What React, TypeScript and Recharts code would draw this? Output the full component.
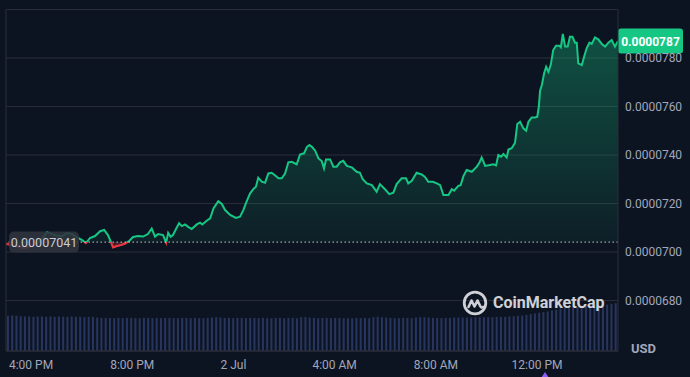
import React from 'react';
import {
  ComposedChart,
  Area,
  XAxis,
  YAxis,
  CartesianGrid,
  ReferenceLine,
  BarChart,
  Bar,
} from 'recharts';

// time in hours since 00:00 on 1 Jul (24 = 2 Jul 00:00)
const TIMES = [
  15.01, 15.25, 15.49, 15.72, 15.96, 16.2, 16.43, 16.63, 16.83, 17.03, 17.23, 17.42, 17.62, 17.86, 18.02,
  18.17, 18.33, 18.53, 18.73, 18.89, 19.04, 19.16, 19.24, 19.4, 19.56, 19.72, 19.87, 20.03, 20.23, 20.43,
  20.62, 20.77, 20.9, 21.02, 21.22, 21.34, 21.42, 21.52, 21.61, 21.73, 21.85, 21.96, 22.09, 22.21, 22.35,
  22.55, 22.68, 22.77, 22.94, 23.08, 23.21, 23.4, 23.54, 23.67, 23.87, 24.1, 24.26, 24.39, 24.53, 24.66,
  24.79, 24.89, 24.98, 25.12, 25.25, 25.38, 25.51, 25.64, 25.78, 25.91, 26.04, 26.17, 26.3, 26.5, 26.63,
  26.79, 26.9, 27.0, 27.11, 27.23, 27.36, 27.49, 27.58, 27.66, 27.82, 27.95, 28.08, 28.21, 28.34, 28.48,
  28.68, 28.87, 29.0, 29.11, 29.27, 29.47, 29.66, 29.79, 29.99, 30.16, 30.32, 30.45, 30.65, 30.82, 30.91,
  31.05, 31.24, 31.44, 31.57, 31.7, 31.88, 32.04, 32.17, 32.3, 32.5, 32.63, 32.72, 32.89, 32.98, 33.09,
  33.22, 33.42, 33.62, 33.72, 33.81, 33.95, 34.14, 34.27, 34.38, 34.47, 34.58, 34.67, 34.8, 34.87, 35.0,
  35.13, 35.22, 35.33, 35.46, 35.57, 35.66, 35.79, 35.92, 36.01, 36.07, 36.12, 36.19, 36.28, 36.36, 36.45,
  36.54, 36.64, 36.75, 36.88, 36.94, 37.02, 37.11, 37.21, 37.3, 37.4, 37.5, 37.57, 37.63, 37.77, 37.86,
  37.96, 38.07, 38.16, 38.29, 38.42, 38.56, 38.69, 38.82, 38.95, 39.08, 39.2,
];

// price in units of 1e-7 USD
const PRICES = [
  703.3, 702.9, 702.1, 701.6, 702.1, 703.3, 705.4, 708.2, 707.4, 706.6, 706.6, 707.8, 707.4, 705.8, 704.9,
  703.7, 705.8, 706.6, 708.6, 709.1, 707.0, 704.1, 701.9, 702.5, 702.9, 703.5, 704.5, 706.2, 706.6, 706.4,
  707.4, 709.7, 706.4, 707.4, 707.0, 703.8, 707.9, 706.3, 707.0, 709.5, 711.9, 710.7, 711.4, 710.4, 709.5,
  711.4, 712.1, 711.4, 712.9, 713.9, 718.0, 721.0, 719.8, 717.3, 715.3, 714.1, 714.6, 717.3, 721.1, 724.2,
  726.0, 726.9, 730.6, 729.0, 728.6, 732.4, 732.7, 731.7, 730.4, 730.4, 732.4, 737.0, 737.2, 736.2, 740.2,
  740.7, 743.3, 744.1, 743.3, 741.8, 738.6, 737.5, 734.5, 738.2, 738.2, 735.2, 735.2, 737.0, 737.6, 735.5,
  734.9, 733.1, 732.7, 730.0, 728.3, 727.6, 724.9, 728.0, 725.9, 723.9, 724.5, 728.0, 730.4, 730.4, 728.3,
  729.4, 732.7, 732.0, 731.0, 729.0, 729.0, 728.3, 727.6, 723.5, 723.5, 725.9, 725.3, 727.3, 727.6, 731.3,
  733.8, 733.1, 735.2, 736.8, 739.0, 735.5, 735.9, 736.2, 735.7, 740.0, 739.3, 740.4, 739.0, 742.3, 742.8,
  745.1, 752.8, 753.7, 751.0, 750.0, 753.7, 755.5, 755.5, 755.8, 759.9, 766.5, 768.9, 773.7, 776.4, 774.3,
  777.1, 783.3, 785.1, 785.1, 784.4, 789.9, 784.7, 784.7, 788.8, 788.8, 786.3, 786.3, 777.8, 777.1, 780.5,
  784.0, 786.3, 785.8, 788.5, 787.7, 785.8, 784.7, 786.3, 787.4, 784.7, 787.0,
];

const BASELINE = 704.1;
const LAST_PRICE = 787.0;
const PRICE_UNIT = 1e-7;
const Y_TOP = 800;
const Y_BOTTOM = 659.2;
const Y_TICKS = [680, 700, 720, 740, 760, 780];
const X_TICKS = [16, 20, 24, 28, 32, 36];
const X_TICK_LABELS = ['4:00 PM', '8:00 PM', '2 Jul', '4:00 AM', '8:00 AM', '12:00 PM'];

// 10-minute volume bars (arbitrary units)
const VOLUMES = [
  103, 104, 103, 102, 101, 101, 100, 101, 101, 100, 101, 100,
  101, 100, 100, 101, 100, 100, 99, 100, 100, 98, 97, 97,
  97, 96, 97, 96, 97, 97, 96, 96, 97, 97, 96, 97,
  96, 97, 97, 96, 96, 97, 97, 96, 97, 96, 96, 97,
  98, 99, 98, 97, 97, 96, 97, 97, 96, 97, 97, 96,
  97, 96, 96, 97, 97, 96, 97, 97, 96, 99, 99, 98,
  97, 96, 97, 97, 96, 97, 97, 96, 96, 96, 97, 96,
  97, 96, 99, 100, 99, 98, 97, 96, 96, 97, 97, 96,
  98, 99, 99, 98, 97, 97, 96, 97, 97, 98, 98, 98,
  98, 98, 99, 99, 99, 99, 99, 100, 100, 100, 101, 102,
  103, 104, 106, 108, 110, 112, 114, 116, 119, 121, 124, 126,
  127, 128, 129, 130, 131, 132, 133, 134, 135, 136, 138, 140,
];
const VOLUME_MAX = 1000;

const W = 690;
const H = 377;
const BG = '#0d1421';
const GRID = '#2a2e3b';
const GREEN = '#16c784';
const RED = '#ea3943';
const TICK = '#a1a7bb';
const FONT = 'Roboto, "Noto Sans", sans-serif';

const priceData = TIMES.map((t, i) => ({ t, p: PRICES[i] }));
const volumeData = VOLUMES.map((v, i) => ({ i, v }));

const pMax = Math.max(...PRICES, BASELINE);
const pMin = Math.min(...PRICES, BASELINE);
const splitOffset = (pMax - BASELINE) / (pMax - pMin);

const xTickFmt = (v: number) => {
  const idx = X_TICKS.indexOf(v);
  return idx >= 0 ? X_TICK_LABELS[idx] : '';
};
const yTickFmt = (v: number) => (v * PRICE_UNIT).toFixed(7);

const BaselinePill = (props: any) => {
  const vb = props.viewBox || {};
  const x = vb.x + 3;
  const y = vb.y;
  return (
    <g>
      <rect x={x} y={y - 10.5} width={70} height={21} rx={5} fill="#30343f" fillOpacity={0.88} />
      <text x={x + 35} y={y + 0.5} textAnchor="middle" dominantBaseline="central" fill="#c9cdd7" fontSize={12.5} fontFamily={FONT}>
        {(BASELINE * PRICE_UNIT).toFixed(8)}
      </text>
    </g>
  );
};

const LastPill = (props: any) => {
  const vb = props.viewBox || {};
  const x = vb.x + vb.width;
  const y = vb.y;
  return (
    <g>
      <rect x={x} y={y - 12.5} width={65} height={25} rx={3} fill={GREEN} />
      <text x={x + 32.5} y={y + 0.5} textAnchor="middle" dominantBaseline="central" fill="#ffffff" fontSize={12} fontWeight={700} fontFamily={FONT}>
        {(LAST_PRICE * PRICE_UNIT).toFixed(7)}
      </text>
    </g>
  );
};

export default function App() {
  return (
    <div style={{ position: 'absolute', left: 0, top: 0, width: W, height: H, background: BG, overflow: 'hidden', fontFamily: FONT }}>
      <div style={{ position: 'absolute', left: 0, top: 0 }}>
        <BarChart width={W} height={H} data={volumeData} margin={{ top: 9.5, right: 72, bottom: 26, left: 6 }} barCategoryGap="22%">
          <XAxis dataKey="i" hide />
          <YAxis hide domain={[0, VOLUME_MAX]} />
          <Bar dataKey="v" fill="#28355f" isAnimationActive={false} />
        </BarChart>
      </div>
      <div style={{ position: 'absolute', left: 0, top: 0 }}>
        <ComposedChart width={W} height={H} data={priceData} margin={{ top: 9.5, right: 0, bottom: 0, left: 6 }} style={{ fontFamily: FONT }}>
          <defs>
            <linearGradient id="priceStroke" x1="0" y1="0" x2="0" y2="1">
              <stop offset={0} stopColor={GREEN} />
              <stop offset={splitOffset} stopColor={GREEN} />
              <stop offset={splitOffset} stopColor={RED} />
              <stop offset={1} stopColor={RED} />
            </linearGradient>
            <linearGradient id="priceFill" x1="0" y1="0" x2="0" y2="1">
              <stop offset={0} stopColor={GREEN} stopOpacity={0.34} />
              <stop offset={splitOffset} stopColor={GREEN} stopOpacity={0.06} />
              <stop offset={splitOffset} stopColor={RED} stopOpacity={0.2} />
              <stop offset={1} stopColor={RED} stopOpacity={0.45} />
            </linearGradient>
          </defs>
          <CartesianGrid horizontal vertical={false} stroke={GRID} strokeWidth={1} />
          <XAxis
            dataKey="t"
            type="number"
            domain={['dataMin', 'dataMax']}
            ticks={X_TICKS}
            tickFormatter={xTickFmt}
            height={26}
            tickLine={false}
            tickSize={0}
            tickMargin={9}
            axisLine={{ stroke: GRID }}
            tick={{ fill: TICK, fontSize: 12 }}
          />
          <YAxis
            orientation="right"
            dataKey="p"
            type="number"
            domain={[Y_BOTTOM, Y_TOP]}
            ticks={Y_TICKS}
            tickFormatter={yTickFmt}
            width={72}
            tickLine={false}
            tickSize={0}
            tickMargin={7}
            axisLine={{ stroke: GRID }}
            tick={{ fill: TICK, fontSize: 12, textAnchor: 'start' }}
            allowDataOverflow
          />
          <ReferenceLine y={Y_TOP} stroke={GRID} />
          <ReferenceLine x={TIMES[0]} stroke={GRID} />
          <ReferenceLine y={BASELINE} stroke="#c8ccd6" strokeDasharray="1.5 2.5" strokeWidth={1} />
          <Area
            type="linear"
            dataKey="p"
            baseValue={BASELINE}
            stroke="url(#priceStroke)"
            strokeWidth={2}
            fill="url(#priceFill)"
            fillOpacity={1}
            dot={false}
            activeDot={false}
            isAnimationActive={false}
          />
          <ReferenceLine y={BASELINE} stroke="none" label={BaselinePill} />
          <ReferenceLine y={LAST_PRICE} stroke="none" label={LastPill} />
        </ComposedChart>
      </div>
      {/* watermark */}
      <div style={{ position: 'absolute', left: 462, top: 290, display: 'flex', alignItems: 'center', opacity: 0.9 }}>
        <svg width={26} height={26} viewBox="0 0 26 26">
          <circle cx={13} cy={13} r={10.8} fill="none" stroke="#e4e6eb" strokeWidth={2.8} />
          <path d="M6.5 17 L9.5 10.5 L12.5 16.5 L15.5 10.5 L18.2 16 Q19.5 18.5 21 16.8" fill="none" stroke="#e4e6eb" strokeWidth={2.6} strokeLinejoin="round" strokeLinecap="round" />
        </svg>
        <span style={{ marginLeft: 5, color: '#e4e6eb', fontSize: 16, fontWeight: 700, lineHeight: '16px', fontFamily: FONT }}>CoinMarketCap</span>
      </div>
      <div style={{ position: 'absolute', left: 631, top: 341, color: TICK, fontSize: 13, fontWeight: 700, lineHeight: '16px', fontFamily: FONT }}>USD</div>
      <div style={{ position: 'absolute', left: 541, top: 372, width: 0, height: 0, borderLeft: '4px solid transparent', borderRight: '4px solid transparent', borderBottom: '6px solid #8b5cf6' }} />
    </div>
  );
}
